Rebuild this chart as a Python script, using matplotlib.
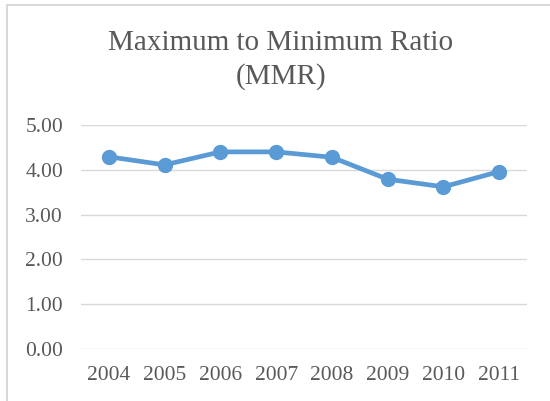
import matplotlib.pyplot as plt
from matplotlib.patches import Rectangle

years = ['2004', '2005', '2006', '2007', '2008', '2009', '2010', '2011']
mmr = [4.29, 4.11, 4.40, 4.40, 4.28, 3.79, 3.62, 3.96]
yticks = [0, 1, 2, 3, 4, 5]

txt = '#595959'
plt.rcParams['font.family'] = ['Liberation Serif', 'DejaVu Serif']

fig = plt.figure(figsize=(5.5, 4.01), dpi=100)
fig.patches.append(Rectangle((7/550, -0.1), 1.2, 1 - 5/401 + 0.1, transform=fig.transFigure,
                             fill=False, edgecolor='#D9D9D9', linewidth=1.5))
ax = fig.add_axes([81/550, 1 - 349/401, 446/550, 224/401])

x = range(len(years))
ax.plot(x, mmr, color='#5B9BD5', linewidth=3.4, marker='o', markersize=10,
        solid_capstyle='round', zorder=3)

ax.set_xlim(-0.5, len(years) - 0.5)
ax.set_ylim(0, 5)
ax.set_xticks(list(x))
ax.set_xticklabels(years)
ax.set_yticks(yticks)
ax.set_yticklabels(['%.2f' % v for v in yticks])
ax.grid(axis='y', color='#D9D9D9', linewidth=1)
ax.set_axisbelow(True)
for s in ax.spines.values():
    s.set_visible(False)
ax.tick_params(axis='both', length=0, labelsize=15.5, colors=txt)
ax.tick_params(axis='x', pad=12)
ax.tick_params(axis='y', pad=13)

fig.text(281/550, 1 - 60/401, 'Maximum to Minimum Ratio\n(MMR)', ha='center', va='center',
         fontsize=21, color=txt, linespacing=1.35)

fig.savefig('out.png', dpi=100)
